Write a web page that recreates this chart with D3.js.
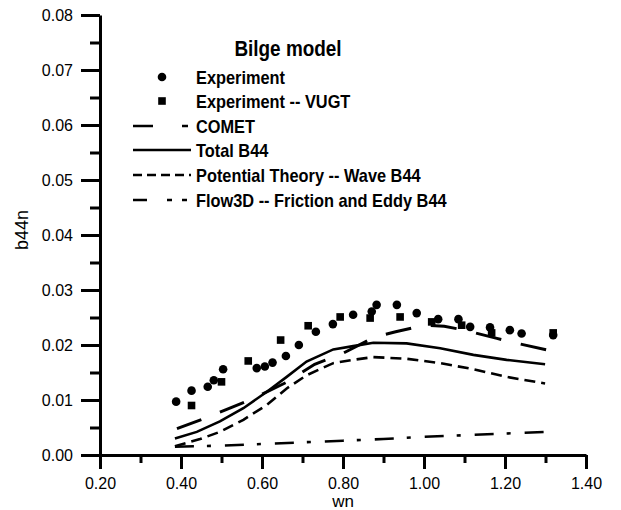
<!DOCTYPE html>
<html>
<head>
<meta charset="utf-8">
<script src="https://cdn.jsdelivr.net/npm/d3@7"></script>
<style>
  body { margin: 0; background: #fff; }
  svg { font-family: "Liberation Sans", Arial, sans-serif; }
  .leg text { font-weight: bold; }
</style>
</head>
<body>
<div id="chart"></div>
<script>
// Experiment (circles)
var expWn = [0.388, 0.426, 0.466, 0.481, 0.504, 0.587, 0.607, 0.626, 0.659, 0.691, 0.733, 0.775,
             0.825, 0.871, 0.883, 0.933, 0.982, 1.035, 1.085, 1.114, 1.163, 1.212, 1.241, 1.319];
var expB  = [0.0097, 0.0117, 0.0124, 0.0136, 0.0156, 0.0158, 0.0161, 0.0168, 0.0180, 0.0200, 0.0224, 0.0238,
             0.0255, 0.0261, 0.0273, 0.0273, 0.0258, 0.0247, 0.0247, 0.0233, 0.0232, 0.0227, 0.0221, 0.0218];

// Experiment -- VUGT (squares)
var vugtWn = [0.426, 0.500, 0.566, 0.646, 0.714, 0.793, 0.867, 0.941, 1.019, 1.093, 1.167, 1.319];
var vugtB  = [0.0090, 0.0133, 0.0171, 0.0209, 0.0235, 0.0251, 0.0249, 0.0251, 0.0242, 0.0236, 0.0222, 0.0222];

// COMET
var cometWn = [0.39, 0.46, 0.51, 0.57, 0.66, 0.73, 0.80, 0.88, 0.93, 1.00, 1.05, 1.10, 1.18, 1.23, 1.31];
var cometB  = [0.0048, 0.0067, 0.0082, 0.0100, 0.0132, 0.0165, 0.0185, 0.0215, 0.0224, 0.0236, 0.0234, 0.0227, 0.0212, 0.0203, 0.0190];

// Total B44
var totalWn = [0.385, 0.439, 0.496, 0.554, 0.612, 0.661, 0.710, 0.776, 0.825, 0.875, 0.957, 1.040, 1.122, 1.204, 1.299];
var totalB  = [0.0030, 0.0042, 0.0061, 0.0085, 0.0115, 0.0142, 0.0170, 0.0192, 0.0198, 0.0204, 0.0203, 0.0194, 0.0182, 0.0173, 0.0165];

// Potential Theory -- Wave B44
var waveWn = [0.385, 0.447, 0.496, 0.554, 0.612, 0.661, 0.710, 0.776, 0.825, 0.875, 0.957, 1.040, 1.122, 1.204, 1.299];
var waveB  = [0.0016, 0.0029, 0.0042, 0.0064, 0.0091, 0.0121, 0.0145, 0.0167, 0.0173, 0.0178, 0.0175, 0.0167, 0.0156, 0.0142, 0.0130];

// Flow3D -- Friction and Eddy B44
var eddyWn = [0.385, 0.5, 0.6, 0.7, 0.8, 0.9, 1.0, 1.1, 1.2, 1.3];
var eddyB  = [0.0015, 0.0017, 0.0020, 0.0023, 0.0026, 0.0029, 0.0033, 0.0036, 0.0039, 0.0042];

var xMajor = [0.2, 0.4, 0.6, 0.8, 1.0, 1.2, 1.4];
var xMinor = [0.3, 0.5, 0.7, 0.9, 1.1, 1.3];
var yMajor = [0, 0.01, 0.02, 0.03, 0.04, 0.05, 0.06, 0.07, 0.08];
var yMinor = [0.005, 0.015, 0.025, 0.035, 0.045, 0.055, 0.065, 0.075];

var legendLabels = ["Experiment", "Experiment -- VUGT", "COMET", "Total B44",
                    "Potential Theory -- Wave B44", "Flow3D -- Friction and Eddy B44"];

var width = 621, height = 510;

var svg = d3.select("#chart").append("svg")
    .attr("width", width)
    .attr("height", height);

var x = d3.scaleLinear().domain([0.2, 1.4]).range([100, 586]);
var y = d3.scaleLinear().domain([0, 0.08]).range([455, 15]);

// axes
svg.append("g")
    .attr("transform", "translate(0,455)")
    .call(d3.axisBottom(x).tickValues(xMajor).tickSize(14).tickSizeOuter(0)
        .tickPadding(9).tickFormat(d3.format(".2f")));
svg.append("g")
    .attr("transform", "translate(0,455)")
    .call(d3.axisBottom(x).tickValues(xMinor).tickSize(8).tickSizeOuter(0).tickFormat(""))
    .select(".domain").remove();

svg.append("g")
    .attr("transform", "translate(100,0)")
    .call(d3.axisLeft(y).tickValues(yMajor).tickSize(19).tickSizeOuter(0)
        .tickPadding(8).tickFormat(d3.format(".2f")));
svg.append("g")
    .attr("transform", "translate(100,0)")
    .call(d3.axisLeft(y).tickValues(yMinor).tickSize(10).tickSizeOuter(0).tickFormat(""))
    .select(".domain").remove();

svg.selectAll(".domain").attr("stroke", "#000").attr("stroke-width", 3);
svg.selectAll(".tick line").attr("stroke", "#000").attr("stroke-width", 3);
svg.selectAll(".tick text").attr("fill", "#000").style("font-size", "16px");

svg.append("text")
    .attr("x", 343).attr("y", 507)
    .attr("text-anchor", "middle")
    .style("font-size", "17px")
    .text("wn");

svg.append("text")
    .attr("transform", "translate(28,230) rotate(-90)")
    .attr("text-anchor", "middle")
    .style("font-size", "18px")
    .text("b44n");

// lines
var line = d3.line()
    .x(function(d) { return x(d[0]); })
    .y(function(d) { return y(d[1]); });

function pairs(a, b) { return a.map(function(v, i) { return [v, b[i]]; }); }

svg.append("path").datum(pairs(eddyWn, eddyB))
    .attr("d", line).attr("fill", "none").attr("stroke", "#000")
    .attr("stroke-width", 2.6).attr("stroke-dasharray", "19,13,4,14");
svg.append("path").datum(pairs(waveWn, waveB))
    .attr("d", line).attr("fill", "none").attr("stroke", "#000")
    .attr("stroke-width", 2.6).attr("stroke-dasharray", "11,6");
svg.append("path").datum(pairs(totalWn, totalB))
    .attr("d", line).attr("fill", "none").attr("stroke", "#000")
    .attr("stroke-width", 2.6);
svg.append("path").datum(pairs(cometWn, cometB))
    .attr("d", line).attr("fill", "none").attr("stroke", "#000")
    .attr("stroke-width", 3).attr("stroke-dasharray", "26,20");

// markers
svg.selectAll(".exp")
    .data(pairs(expWn, expB))
    .enter().append("circle")
    .attr("class", "exp")
    .attr("cx", function(d) { return x(d[0]); })
    .attr("cy", function(d) { return y(d[1]); })
    .attr("r", 4.3)
    .attr("fill", "#000");

svg.selectAll(".vugt")
    .data(pairs(vugtWn, vugtB))
    .enter().append("rect")
    .attr("class", "vugt")
    .attr("x", function(d) { return x(d[0]) - 3.8; })
    .attr("y", function(d) { return y(d[1]) - 3.8; })
    .attr("width", 7.6).attr("height", 7.6)
    .attr("fill", "#000");

// legend (condensed bold text, squeezed horizontally)
var squeeze = 0.86;
var leg = svg.append("g").attr("class", "leg");
leg.append("text")
    .attr("x", 288).attr("y", 56)
    .attr("text-anchor", "middle")
    .style("font-size", "22px")
    .text("Bilge model");

var rowY = [77, 101, 126, 150, 175, 200];
leg.selectAll(".ltxt")
    .data(legendLabels)
    .enter().append("text")
    .attr("class", "ltxt")
    .attr("x", 196)
    .attr("y", function(d, i) { return rowY[i] + 7; })
    .style("font-size", "19px")
    .text(function(d) { return d; });

leg.selectAll("text").each(function() {
    var w = this.getComputedTextLength();
    d3.select(this)
        .attr("textLength", w * squeeze)
        .attr("lengthAdjust", "spacingAndGlyphs");
});

leg.append("circle").attr("cx", 162).attr("cy", rowY[0]).attr("r", 4.3).attr("fill", "#000");
leg.append("rect").attr("x", 158.2).attr("y", rowY[1] - 3.8).attr("width", 7.6).attr("height", 7.6).attr("fill", "#000");

var legDash = [null, null, "20,29,6", null, "9,5", "14,20,5,10,5"];
[2, 3, 4, 5].forEach(function(i) {
    leg.append("line")
        .attr("x1", 133).attr("x2", 191)
        .attr("y1", rowY[i]).attr("y2", rowY[i])
        .attr("stroke", "#000")
        .attr("stroke-width", 2.6)
        .attr("stroke-dasharray", legDash[i]);
});
</script>
</body>
</html>
